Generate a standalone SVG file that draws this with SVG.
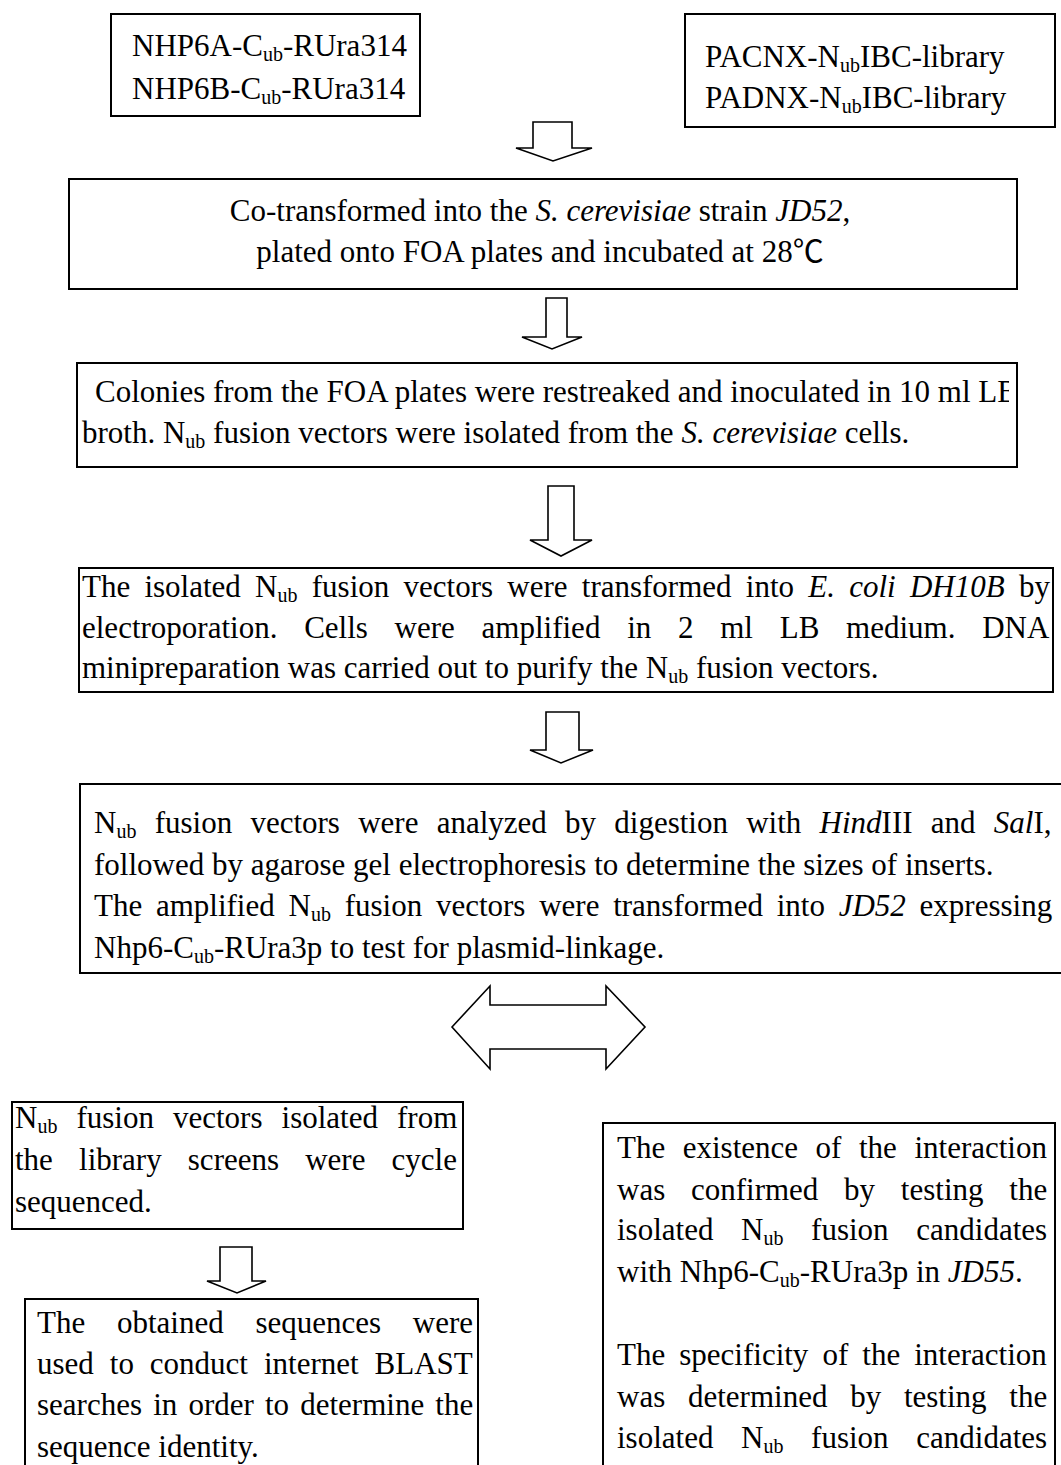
<svg xmlns="http://www.w3.org/2000/svg" width="1061" height="1465" viewBox="0 0 1061 1465">
<style>
.t{font-family:"Liberation Serif","Times New Roman","Noto Sans CJK SC",serif;font-size:31px;fill:#000}
.i{font-style:italic}
.sub{font-size:20px;baseline-shift:-5px}
.box{fill:#fff;stroke:#000;stroke-width:2}
.arr{fill:#fff;stroke:#000;stroke-width:1.6;stroke-linejoin:miter}
</style>
<defs>
<clipPath id="c4"><rect x="77" y="363" width="932" height="104"/></clipPath>
</defs>
<rect width="1061" height="1465" fill="#fff"/>
<g id="connectors">
<polygon class="arr" points="533,122 572,122 572,148 592,148 553,161 516,148 533,148"/>
<polygon class="arr" points="546,298 567,298 567,337 582,337 552,349 522,337 546,337"/>
<polygon class="arr" points="548,486 574,486 574,540 592,540 561,556 530,540 548,540"/>
<polygon class="arr" points="546,712 579,712 579,750 593,750 561,763 530,750 546,750"/>
<polygon class="arr" points="452,1027 490,986 490,1005 606,1005 606,986 645,1027 606,1069 606,1049 490,1049 490,1069"/>
<polygon class="arr" points="220,1247 252,1247 252,1281 266,1281 237,1293 207,1281 220,1281"/>
</g>
<g id="n1">
<rect class="box" x="111" y="14" width="309" height="102"/>
<text class="t" x="132" y="56">NHP6A-C<tspan class="sub">ub</tspan>-RUra314</text>
<text class="t" x="132" y="99">NHP6B-C<tspan class="sub">ub</tspan>-RUra314</text>
</g>
<g id="n2">
<rect class="box" x="685" y="14" width="370" height="113"/>
<text class="t" x="705" y="67">PACNX-N<tspan class="sub">ub</tspan>IBC-library</text>
<text class="t" x="705" y="108">PADNX-N<tspan class="sub">ub</tspan>IBC-library</text>
</g>
<g id="n3">
<rect class="box" x="69" y="179" width="948" height="110"/>
<text class="t" x="540" y="221" text-anchor="middle">Co-transformed into the <tspan class="i">S. cerevisiae</tspan> strain <tspan class="i">JD52</tspan>,</text>
<text class="t" x="540" y="262" text-anchor="middle">plated onto FOA plates and incubated at 28℃</text>
</g>
<g id="n4">
<rect class="box" x="77" y="363" width="940" height="104"/>
<text class="t" x="95" y="402" clip-path="url(#c4)">Colonies from the FOA plates were restreaked and inoculated in 10 ml LB</text>
<text class="t" x="82" y="443">broth. N<tspan class="sub">ub</tspan> fusion vectors were isolated from the <tspan class="i">S. cerevisiae</tspan> cells.</text>
</g>
<g id="n5">
<rect class="box" x="79" y="568" width="974" height="124"/>
<text class="t" x="82" y="597" word-spacing="6.5">The isolated N<tspan class="sub">ub</tspan> fusion vectors were transformed into <tspan class="i">E. coli DH10B</tspan> by</text>
<text class="t" x="82" y="638" word-spacing="19">electroporation. Cells were amplified in 2 ml LB medium. DNA</text>
<text class="t" x="82" y="678">minipreparation was carried out to purify the N<tspan class="sub">ub</tspan> fusion vectors.</text>
</g>
<g id="n6">
<rect class="box" x="80" y="784" width="990" height="189"/>
<text class="t" x="94" y="833" word-spacing="10.5">N<tspan class="sub">ub</tspan> fusion vectors were analyzed by digestion with <tspan class="i">Hind</tspan>III and <tspan class="i">Sal</tspan>I,</text>
<text class="t" x="94" y="874.5">followed by agarose gel electrophoresis to determine the sizes of inserts.</text>
<text class="t" x="94" y="916" word-spacing="6">The amplified N<tspan class="sub">ub</tspan> fusion vectors were transformed into <tspan class="i">JD52</tspan> expressing</text>
<text class="t" x="94" y="957.5">Nhp6-C<tspan class="sub">ub</tspan>-RUra3p to test for plasmid-linkage.</text>
</g>
<g id="n7">
<rect class="box" x="12" y="1102" width="451" height="127"/>
<text class="t" x="15" y="1128" word-spacing="11.3">N<tspan class="sub">ub</tspan> fusion vectors isolated from</text>
<text class="t" x="15" y="1170" word-spacing="18.4">the library screens were cycle</text>
<text class="t" x="15" y="1212">sequenced.</text>
</g>
<g id="n8">
<rect class="box" x="25" y="1299" width="453" height="190"/>
<text class="t" x="37" y="1333" word-spacing="24">The obtained sequences were</text>
<text class="t" x="37" y="1374" word-spacing="8.2">used to conduct internet BLAST</text>
<text class="t" x="37" y="1415" word-spacing="3.4">searches in order to determine the</text>
<text class="t" x="37" y="1457">sequence identity.</text>
</g>
<g id="n9">
<rect class="box" x="603" y="1123" width="452" height="370"/>
<text class="t" x="617" y="1158" word-spacing="9.8">The existence of the interaction</text>
<text class="t" x="617" y="1200" word-spacing="18">was confirmed by testing the</text>
<text class="t" x="617" y="1240" word-spacing="19.9">isolated N<tspan class="sub">ub</tspan> fusion candidates</text>
<text class="t" x="617" y="1282">with Nhp6-C<tspan class="sub">ub</tspan>-RUra3p in <tspan class="i">JD55</tspan>.</text>
<text class="t" x="617" y="1365" word-spacing="6.3">The specificity of the interaction</text>
<text class="t" x="617" y="1407" word-spacing="15">was determined by testing the</text>
<text class="t" x="617" y="1448" word-spacing="19.9">isolated N<tspan class="sub">ub</tspan> fusion candidates</text>
</g>
</svg>
